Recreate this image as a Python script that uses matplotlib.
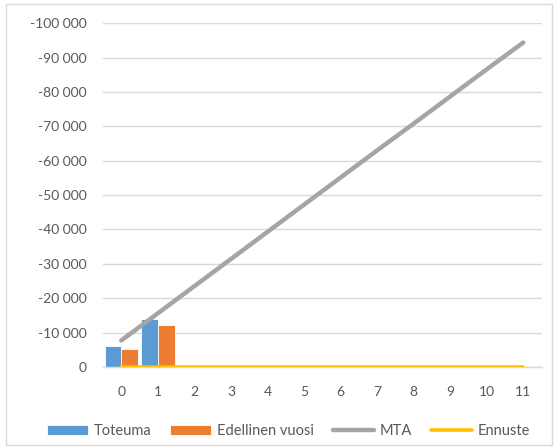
import matplotlib.pyplot as plt
import numpy as np
from matplotlib.ticker import FuncFormatter, MultipleLocator
from matplotlib.patches import Rectangle

categories = ['0', '1', '2', '3', '4', '5', '6', '7', '8', '9', '10', '11']
toteuma = [-6200, -13900]
edellinen = [-5200, -12300]
mta = [-7700, -15600, -23500, -31400, -39300, -47200,
       -55100, -63000, -70800, -78700, -86600, -94400]
ennuste = [0, 0, 0, 0, 0, 0, 0, 0, 0, 0, 0, 0]

plt.rcParams['font.family'] = ['Lato', 'DejaVu Sans']
txt = '#595959'
grid = '#d9d9d9'

fig = plt.figure(figsize=(5.6, 4.48), dpi=100)
ax = fig.add_axes([0.184, 0.181, 0.783, 0.767])

x = np.arange(len(categories))
w = 0.46
b1 = ax.bar(x[:len(toteuma)] - w / 2, toteuma, width=w, color='#5B9BD5',
            edgecolor='white', linewidth=0.6, label='Toteuma', zorder=2)
b2 = ax.bar(x[:len(edellinen)] + w / 2, edellinen, width=w, color='#ED7D31',
            edgecolor='white', linewidth=0.6, label='Edellinen vuosi', zorder=2)
l1, = ax.plot(x, mta, color='#A5A5A5', lw=3.2, solid_capstyle='round', label='MTA', zorder=3)
l2, = ax.plot(x, ennuste, color='#FFC000', lw=2.6, solid_capstyle='round', label='Ennuste', zorder=3)

ax.set_xlim(-0.5, len(categories) - 0.5)
ax.set_ylim(0, -100000)
ax.yaxis.set_major_locator(MultipleLocator(10000))
ax.yaxis.set_major_formatter(FuncFormatter(lambda v, p: f'{int(round(v)):,}'.replace(',', ' ')))
ax.set_xticks(x)
ax.set_xticklabels(categories)

ax.grid(axis='y', color=grid, lw=1, zorder=0)
for s in ['top', 'right', 'left']:
    ax.spines[s].set_visible(False)
ax.spines['bottom'].set_color(grid)
ax.spines['bottom'].set_linewidth(1)
ax.tick_params(axis='both', length=0, labelsize=10, colors=txt)
ax.tick_params(axis='y', pad=12)
ax.tick_params(axis='x', pad=14)

leg = fig.legend([b1, b2, l1, l2], ['Toteuma', 'Edellinen vuosi', 'MTA', 'Ennuste'],
                 loc='center', bbox_to_anchor=(0.515, 0.038), ncol=4, frameon=False,
                 fontsize=10.5, handlelength=2.8, handletextpad=0.4, columnspacing=1.3,
                 labelcolor=txt)

fig.patches.append(Rectangle((0.011, 0.007), 0.975, 0.984, transform=fig.transFigure,
                             fill=False, edgecolor=grid, lw=1))

fig.savefig('out.png', dpi=100)
